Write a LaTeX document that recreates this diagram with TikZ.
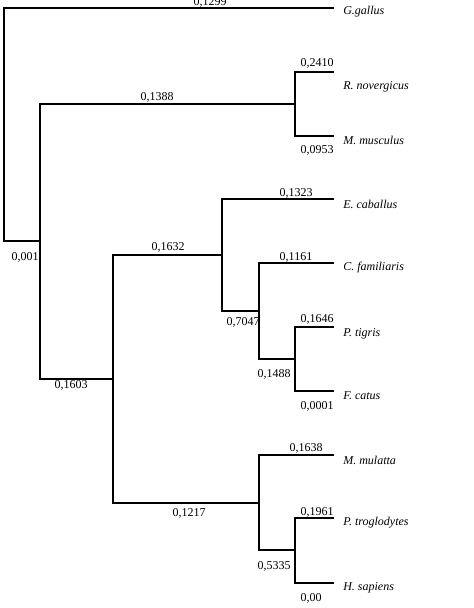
\documentclass[tikz,border=0pt]{standalone}
\usepackage{fontspec}
\setmainfont{Liberation Serif}
\usepackage{tikz}
\usetikzlibrary{positioning, calc}

\begin{document}
\begin{tikzpicture}[x=0.75pt, y=-0.75pt,
    branch/.style={line width=1.4pt, line cap=rect},
    blen/.style={inner sep=0pt, font=\fontsize{9}{11}\selectfont},
    taxon/.style={anchor=west, inner sep=0pt, font=\fontsize{9}{11}\selectfont\itshape}]
  \useasboundingbox (0,0) rectangle (474,608);

  % internal nodes (x = split, y = incoming branch)
  \coordinate (root) at (4,241);
  \coordinate (n1) at (40,241);
  \coordinate (rod) at (295,104);
  \coordinate (n2) at (113,379);
  \coordinate (n3) at (222,255);
  \coordinate (n4) at (259,311);
  \coordinate (fel) at (295,359);
  \coordinate (prim) at (259,503);
  \coordinate (hom) at (295,550);

  % leaf tips
  \coordinate (gg) at (333,8);
  \coordinate (rn) at (333,72);
  \coordinate (mm) at (333,136);
  \coordinate (ec) at (333,199);
  \coordinate (cf) at (333,263);
  \coordinate (pt) at (333,327);
  \coordinate (fc) at (333,391);
  \coordinate (mmu) at (333,455);
  \coordinate (ptr) at (333,518);
  \coordinate (hs) at (333,583);

  % branches
  \draw[branch] (root) |- (gg);
  \draw[branch] (root) -- (n1);
  \draw[branch] (n1) |- (rod);
  \draw[branch] (n1) |- (n2);
  \draw[branch] (rod) |- (rn);
  \draw[branch] (rod) |- (mm);
  \draw[branch] (n2) |- (n3);
  \draw[branch] (n2) |- (prim);
  \draw[branch] (n3) |- (ec);
  \draw[branch] (n3) |- (n4);
  \draw[branch] (n4) |- (cf);
  \draw[branch] (n4) |- (fel);
  \draw[branch] (fel) |- (pt);
  \draw[branch] (fel) |- (fc);
  \draw[branch] (prim) |- (mmu);
  \draw[branch] (prim) |- (hom);
  \draw[branch] (hom) |- (ptr);
  \draw[branch] (hom) |- (hs);

  % branch lengths
  \node[blen] (lgg) at (210,2.5) {0,1299};
  \node[blen] (lrn) at (317,63) {0,2410};
  \node[blen] (lrod) at (157,97) {0,1388};
  \node[blen] (lmm) at (317,150) {0,0953};
  \node[blen] (ln1) at (25,257) {0,001};
  \node[blen] (ln2) at (71,385) {0,1603};
  \node[blen] (ln3) at (168,247) {0,1632};
  \node[blen] (lec) at (296,193) {0,1323};
  \node[blen] (ln4) at (243,322) {0,7047};
  \node[blen] (lcf) at (296,257) {0,1161};
  \node[blen] (lpt) at (317,319) {0,1646};
  \node[blen] (lfel) at (274,374) {0,1488};
  \node[blen] (lfc) at (317,406) {0,0001};
  \node[blen] (lmmu) at (306,448) {0,1638};
  \node[blen] (lprim) at (189,513) {0,1217};
  \node[blen] (lptr) at (317,512) {0,1961};
  \node[blen] (lhom) at (274,566) {0,5335};
  \node[blen] (lhs) at (311,598) {0,00};

  % taxa
  \node[taxon] (tgg) at (343,12) {G.gallus};
  \node[taxon] (trn) at (343,87) {R. novergicus};
  \node[taxon] (tmm) at (343,140) {M. musculus};
  \node[taxon] (tec) at (343,204) {E. caballus};
  \node[taxon] (tcf) at (343,268) {C. familiaris};
  \node[taxon] (tpt) at (343,334) {P. tigris};
  \node[taxon] (tfc) at (343,396) {F. catus};
  \node[taxon] (tmmu) at (343,460) {M. mulatta};
  \node[taxon] (tptr) at (343,523) {P. troglodytes};
  \node[taxon] (ths) at (343,588) {H. sapiens};
\end{tikzpicture}
\end{document}
